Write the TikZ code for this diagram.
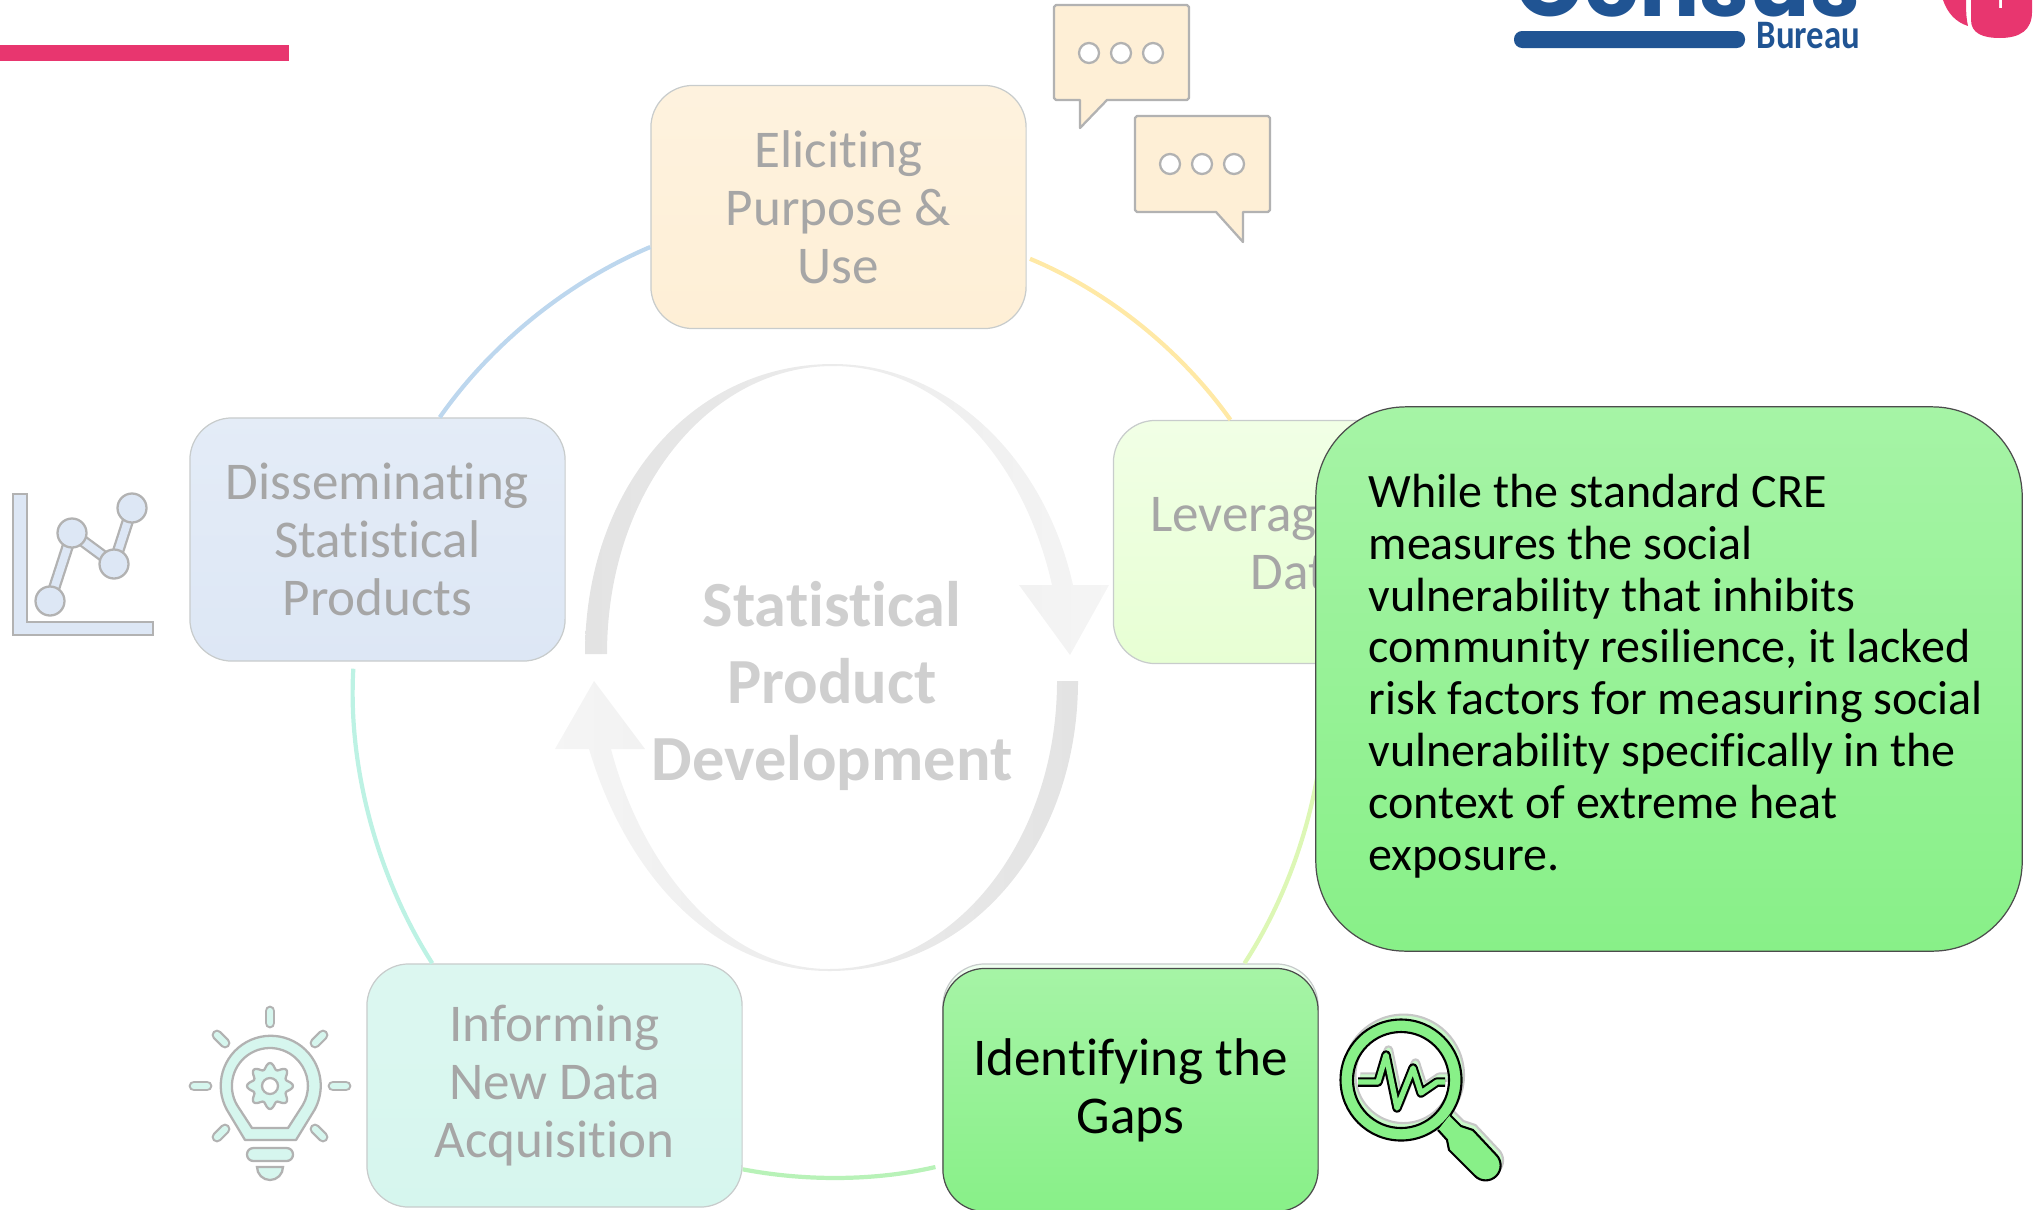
\documentclass[tikz,border=0pt]{standalone}
\usepackage{fontspec}
\setmainfont[Ligatures=NoCommon]{Carlito}
\newfontfamily\censusfont{Poppins}
\usepackage{xcolor}
\usepackage{tikz}
\usetikzlibrary{positioning, shapes, calc}

\definecolor{fadetext}{HTML}{A6A6A6}
\definecolor{fadeedge}{HTML}{C8CCCC}
\definecolor{icongray}{HTML}{B2B2B2}
\definecolor{censusblue}{HTML}{205493}
\definecolor{censuspink}{HTML}{E8366F}
\definecolor{peach}{HTML}{FEEFD6}
\definecolor{skyfill}{HTML}{DDE7F5}
\definecolor{mintfill}{HTML}{D6F6EE}
\definecolor{hlgreen}{HTML}{88F088}
\definecolor{ringyellow}{HTML}{FFE9A6}
\definecolor{ringblue}{HTML}{BDD7EE}
\definecolor{ringteal}{HTML}{BDF2E4}
\definecolor{ringgreen}{HTML}{B8F2B8}
\definecolor{ringlime}{HTML}{DDF7B5}

\tikzset{
	stagebox/.style={rectangle, rounded corners=0.42cm, minimum width=3.75cm, minimum height=2.43cm, align=center, draw=fadeedge, line width=0.35pt, text=fadetext, font=\fontsize{15.1}{16.5}\selectfont},
	ringline/.style={line width=1.2pt, bend left=#1, looseness=0.85},
	iconline/.style={draw=icongray, line width=0.65pt},
	iconbar/.style={draw=icongray, line width=0.65pt, double=#1, double distance=2.2pt, line cap=round, line join=round},
	ghostlens/.style={draw=black!22, fill=hlgreen!45, line width=0.6pt, even odd rule, line join=round},
	glasslens/.style={draw=black, fill=hlgreen, line width=0.6pt, even odd rule, line join=round},
	ghostpulse/.style={draw=black!22, double=hlgreen!45, double distance=1.5pt, line width=0.6pt, line join=round},
	glasspulse/.style={draw=black, double=hlgreen, double distance=1.5pt, line width=0.6pt, line join=round}
}

\begin{document}
\begin{tikzpicture}[x=0.01cm, y=-0.01cm]
	\useasboundingbox (0,0) rectangle (2034,1209);

	\fill [censuspink] (0,45) rectangle (289,61);

	\node [anchor=base east, text=censusblue, inner sep=0, font=\censusfont\bfseries\fontsize{25.5}{25.5}\selectfont] (census) at (1861,16) {Census};
	\fill [censusblue, rounded corners=2.3pt] (1514,31) rectangle (1745,48);
	\node [anchor=base west, text=censusblue, inner sep=0, font=\bfseries\fontsize{11.5}{11.5}\selectfont] (bureau) at (1756,48) {\scalebox{0.86}[1]{Bureau}};
	\fill [censuspink] (1943,0) .. controls (1947,12) and (1955,22) .. (1968,26) .. controls (1966,18) and (1966,8) .. (1966,0) -- cycle;
	\fill [censuspink] (1971,0) -- (1971,20) .. controls (1971,33) and (1982,38) .. (2000,38) .. controls (2020,38) and (2032,30) .. (2032,12) -- (2032,0) -- (2002,0) -- (2002,8) -- (1999,8) -- (1999,0) -- cycle;

	\draw [left color=black!11, right color=black!4, draw=none] (585,654) .. controls (585,490) and (690,364) .. (833,364) .. controls (950,364) and (1045,460) .. (1073,585) -- (1109,585) -- (1070,655) -- (1019,585) -- (1052,585) .. controls (1025,465) and (945,366) .. (833,366) .. controls (710,366) and (607,490) .. (607,654) -- cycle;
	\draw [right color=black!11, left color=black!4, draw=none] (1078,681) .. controls (1078,840) and (975,971) .. (829,971) .. controls (710,971) and (625,870) .. (589,749) -- (555,749) -- (594,681) -- (645,749) -- (611,749) .. controls (640,860) and (720,969) .. (829,969) .. controls (955,969) and (1057,840) .. (1057,681) -- cycle;
	\node [align=center, text=black!19, font=\bfseries\fontsize{18.3}{21.8}\selectfont] (devtitle) at (832,686) {Statistical\\Product\\Development};

	\node [stagebox, top color=peach!80!white, bottom color=peach] (elicit) at (838.5,207) {Eliciting\\Purpose \&\\Use};
	\node [stagebox, top color=green!40!lime!10!white, bottom color=green!40!lime!17!white] (leverage) at (1301,542) {Leveraging\kern19.9pt\\Data};
	\node [stagebox, top color=skyfill!80!white, bottom color=skyfill] (dissem) at (377.5,539.5) {Disseminating\\Statistical\\Products};
	\node [stagebox, top color=mintfill!85!white, bottom color=mintfill] (inform) at (554.5,1085.5) {Informing\\New Data\\Acquisition};
	\node [stagebox, top color=green!6!white, bottom color=green!10!white] (identghost) at (1130.5,1085.5) {};

	\draw [ringline=16, draw=ringyellow, shorten <=1pt] (elicit.-15.5) to (leverage.120);
	\draw [ringline=16, draw=ringblue] (dissem.63.5) to (elicit.192.5);
	\draw [ringline=18, draw=ringteal, shorten >=2pt] (inform.135) to (dissem.-101);
	\draw [ringline=12, draw=ringgreen, shorten <=2pt] (identghost.203.5) to (inform.-24);
	\draw [ringline=18, draw=ringlime] (leverage.-79) to (identghost.47);

	\node [stagebox, draw=black!70, text=black, top color=hlgreen!75!white, bottom color=hlgreen] (identify) at (1130.5,1090) {Identifying the\\Gaps};

	\node [rectangle, rounded corners=0.9cm, minimum width=7.06cm, minimum height=5.44cm, draw=black!70, line width=0.35pt, top color=hlgreen!75!white, bottom color=hlgreen] (callout) at (1669,679) {};
	\node [anchor=west, align=left, inner sep=0, font=\fontsize{13.65}{14.75}\selectfont] (callouttext) at (1368,676) {While the standard CRE\\measures the social\\vulnerability that inhibits\\community resilience, it lacked\\risk factors for measuring social\\vulnerability specifically in the\\context of extreme heat\\exposure.};

	\draw [iconline, fill=peach, line join=round] (1056,5) -- (1187,5) -- (1189,7) -- (1189,98) -- (1187,100) -- (1107,100) -- (1080,128) -- (1080,100) -- (1056,100) -- (1054,98) -- (1054,7) -- cycle;
	\draw [iconline, fill=peach, line join=round] (1137,116) -- (1268,116) -- (1270,118) -- (1270,210) -- (1268,212) -- (1243,212) -- (1243,242) -- (1216,212) -- (1137,212) -- (1135,210) -- (1135,118) -- cycle;
	\foreach \dotx in {1089,1121,1153}
		\draw [iconline, fill=white] (\dotx,53) circle (10);
	\foreach \dotx in {1170,1202,1234}
		\draw [iconline, fill=white] (\dotx,164) circle (10);

	\draw [iconline, fill=skyfill] (13,494) -- (27,494) -- (27,622) -- (153,622) -- (153,635) -- (13,635) -- cycle;
	\draw [iconbar=skyfill] (50,601) -- (72,533) -- (114,564) -- (132,508);
	\foreach \ptx/\pty in {50/601, 72/533, 114/564, 132/508}
		\draw [iconline, fill=skyfill] (\ptx,\pty) circle (14.5);

	\foreach \rayax/\rayay/\raybx/\rayby in {270/1011/270/1023, 194/1086/207/1086, 333/1086/346/1086, 217/1035/225/1043, 323/1035/315/1043, 217/1137/225/1129, 323/1137/315/1129}
		\draw [iconbar=mintfill, double distance=1.8pt] (\rayax,\rayay) -- (\raybx,\rayby);
	\draw [iconline, fill=mintfill, even odd rule, line join=round] (227,1110) arc (151:389:50) -- (296,1140) -- (245,1140) -- cycle (252,1128) -- (237,1105) arc (150:390:38) -- (288,1128) -- cycle;
	\draw [iconline, fill=mintfill, even odd rule] plot [domain=0:360, samples=97, smooth] ({270+(20+3*cos(8*\x))*cos(\x)},{1086+(20+3*cos(8*\x))*sin(\x)}) (278,1086) arc (0:360:8);
	\draw [iconline, fill=mintfill, rounded corners=1.8pt] (247,1148) rectangle (293,1161);
	\draw [iconline, fill=mintfill] (257,1167) -- (283,1167) arc (0:180:13) -- cycle;

	\foreach \lensdy/\lensstyle/\pulsestyle in {1.4/ghostlens/ghostpulse, 0/glasslens/glasspulse}
	{
		\begin{scope}[yshift=\lensdy pt, xshift=\lensdy*0.5pt]
			\draw [\lensstyle] (1461.5,1080) arc (0:360:60.5) (1449,1080) arc (0:360:48);
			\draw [\lensstyle] (1438,1130) -- (1447,1140) -- (1449,1150) -- (1475,1176) arc (135:-45:15) -- (1473,1130) -- (1461,1126) -- (1450,1115);
			\draw [\pulsestyle] (1358,1082) -- (1378,1082) -- (1386,1055) -- (1397,1108) -- (1413,1068) -- (1421,1093) -- (1437,1082) -- (1445,1082);
		\end{scope}
	}
\end{tikzpicture}
\end{document}
